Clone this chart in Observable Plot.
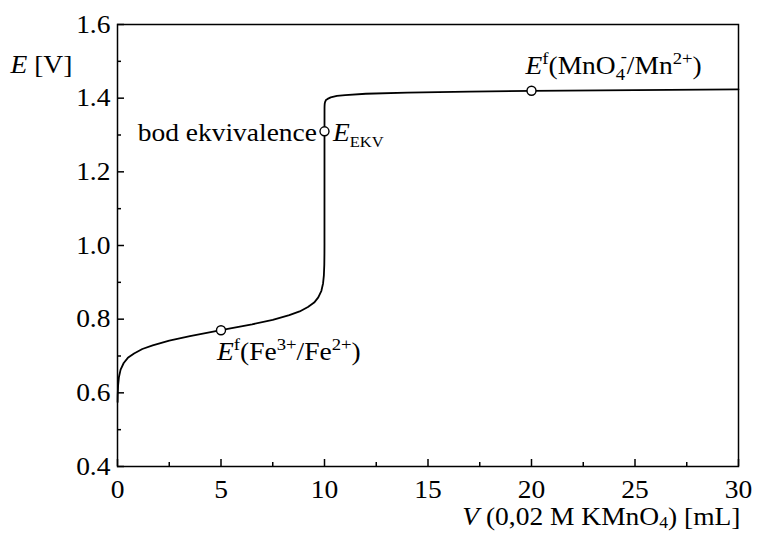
<!DOCTYPE html>
<html><head><meta charset="utf-8">
<script src="https://cdn.jsdelivr.net/npm/d3@7"></script>
<script src="https://cdn.jsdelivr.net/npm/@observablehq/plot@0.6"></script>
<style>body{margin:0;background:#fff} svg{display:block}</style>
</head><body><div id="chart"></div>
<script>
// titration curve
const volume = [0.005, 0.01, 0.03, 0.07, 0.15, 0.3, 0.5, 0.8, 1.2, 1.7, 2.5, 3.5, 5, 6.5, 7.5, 8.3, 8.8, 9.2, 9.5, 9.7, 9.85, 9.93, 9.97, 9.99, 9.997, 9.999, 10, 10.001, 10.003, 10.01, 10.03, 10.07, 10.15, 10.3, 10.6, 11, 12, 14, 17, 20, 25, 30];
const potential = [0.575, 0.593, 0.621, 0.643, 0.663, 0.681, 0.695, 0.707, 0.719, 0.729, 0.742, 0.754, 0.770, 0.786, 0.798, 0.811, 0.821, 0.833, 0.845, 0.859, 0.877, 0.897, 0.919, 0.947, 0.978, 1.006, 1.31, 1.373, 1.378, 1.385, 1.390, 1.395, 1.398, 1.402, 1.406, 1.408, 1.412, 1.415, 1.418, 1.420, 1.422, 1.424];
const markerV = [5, 10, 20];
const markerE = [0.77, 1.31, 1.42];
const xTicks = [0, 5, 10, 15, 20, 25, 30];
const xMinor = [2.5, 7.5, 12.5, 17.5, 22.5, 27.5];
const yTicks = [0.4, 0.6, 0.8, 1.0, 1.2, 1.4, 1.6];
const yMinor = [0.5, 0.7, 0.9, 1.1, 1.3, 1.5];
const labelKeys = ["@fe", "@ekv", "@bod", "@mn"];
const labelV = [5, 10, 10, 20];
const labelE = [0.77, 1.31, 1.31, 1.42];

const curve = volume.map((v, i) => ({v, e: potential[i]}));
const markers = markerV.map((v, i) => ({v, e: markerE[i]}));
const labels = labelKeys.map((k, i) => ({k, v: labelV[i], e: labelE[i]}));

const S = (t) => `<tspan baseline-shift="10" font-size="17">${t}</tspan>`;
const B = (t) => `<tspan baseline-shift="-7" font-size="17">${t}</tspan>`;
const rich = {
  "@fe": `<tspan font-style="italic">E</tspan>${S("f")}(Fe${S("3+")}/Fe${S("2+")})`,
  "@ekv": `<tspan font-style="italic">E</tspan><tspan baseline-shift="-6" font-size="15">EKV</tspan>`,
  "@bod": `bod ekvivalence`,
  "@mn": `<tspan font-style="italic">E</tspan>${S("f")}(MnO${B("4")}<tspan baseline-shift="11" font-size="17" dx="-4">-</tspan>/Mn${S("2+")})`,
  "@xlab": `<tspan font-style="italic">V</tspan> (0,02 M KMnO<tspan baseline-shift="-4" font-size="16">4</tspan>) [mL]`,
  "@ylab": `<tspan font-style="italic">E</tspan> [V]`
};

const chart = Plot.plot({
  width: 758, height: 533,
  marginLeft: 117, marginRight: 20, marginTop: 24, marginBottom: 67,
  style: {fontFamily: "'Liberation Serif', 'Times New Roman', serif", fontSize: "25px", color: "black", background: "white"},
  x: {domain: [0, 30], label: null},
  y: {domain: [0.4, 1.6], label: null},
  marks: [
    Plot.axisX(xTicks, {tickSize: 7, dy: -7, tickFormat: () => "", strokeWidth: 1.5, label: null}),
    Plot.axisX(xMinor, {tickSize: 4, dy: -4, tickFormat: () => "", strokeWidth: 1.5, label: null}),
    Plot.axisX(xTicks, {tickSize: 0, tickPadding: 14, tickFormat: d3.format("d"), label: null}),
    Plot.axisY(yTicks, {tickSize: 7, dx: 7, tickFormat: () => "", strokeWidth: 1.5, label: null}),
    Plot.axisY(yMinor, {tickSize: 4, dx: 4, tickFormat: () => "", strokeWidth: 1.5, label: null}),
    Plot.axisY(yTicks, {tickSize: 0, tickPadding: 7, tickFormat: d3.format(".1f"), label: null}),
    Plot.frame({stroke: "black", strokeWidth: 1.5}),
    Plot.line(curve, {x: "v", y: "e", stroke: "black", strokeWidth: 1.8}),
    Plot.dot(markers, {x: "v", y: "e", r: 4.5, fill: "white", stroke: "black", strokeWidth: 1.4}),
    Plot.text(labels.filter(d => d.k === "@mn"), {x: "v", y: "e", text: "k", textAnchor: "start", lineAnchor: "middle", dx: -6, dy: -25}),
    Plot.text(labels.filter(d => d.k === "@ekv"), {x: "v", y: "e", text: "k", textAnchor: "start", lineAnchor: "middle", dx: 8.5, dy: 2}),
    Plot.text(labels.filter(d => d.k === "@bod"), {x: "v", y: "e", text: "k", textAnchor: "end", lineAnchor: "middle", dx: -7.5, dy: 2}),
    Plot.text(labels.filter(d => d.k === "@fe"), {x: "v", y: "e", text: "k", textAnchor: "start", lineAnchor: "middle", dx: -4, dy: 21.5}),
    Plot.text(["@xlab"], {frameAnchor: "bottom-right", textAnchor: "end", lineAnchor: "middle", dx: 2, dy: 50}),
    Plot.text(["@ylab"], {frameAnchor: "top-left", textAnchor: "start", lineAnchor: "middle", dx: -107, dy: 40})
  ]
});

d3.select(chart).selectAll("text").each(function() {
  const t = this.textContent;
  if (rich[t]) this.innerHTML = rich[t];
  const tr = this.getAttribute("transform");
  if (tr) this.setAttribute("transform", tr + " scale(1.1,1)");
});
document.getElementById("chart").appendChild(chart);
</script>
</body></html>
